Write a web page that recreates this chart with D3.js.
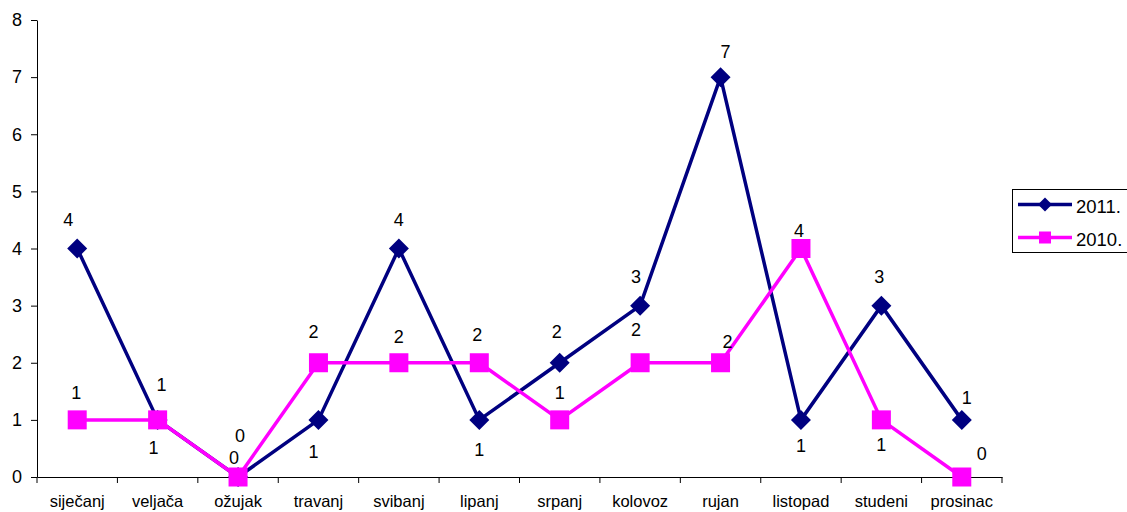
<!DOCTYPE html>
<html>
<head>
<meta charset="utf-8">
<script src="https://cdn.jsdelivr.net/npm/d3@7"></script>
<style>
  html, body { margin: 0; padding: 0; background: #fff; }
  svg { display: block; font-family: "Liberation Sans", Arial, sans-serif; }
</style>
</head>
<body>
<svg id="chart" width="1127" height="512"></svg>
<script>
const months = ["siječanj","veljača","ožujak","travanj","svibanj","lipanj","srpanj","kolovoz","rujan","listopad","studeni","prosinac"];
const values2011 = [4,1,0,1,4,1,2,3,7,1,3,1];
const values2010 = [1,1,0,2,2,2,1,2,2,4,1,0];
const yTickValues = [0,1,2,3,4,5,6,7,8];
const seriesNames = ["2011.","2010."];
// label offsets (dx, dy of text centre from the point)
const labelOffsets2011 = [[-9,-29],[-4,28],[-4,-19],[-5,32],[0,-29],[0,30],[-3,-31],[-4,-29],[5,-25],[0,26],[-2,-29],[5,-22]];
const labelOffsets2010 = [[-1,-27],[4,-35],[2,-41],[-5,-31],[0,-26],[-2,-28],[0,-27],[-4,-33],[7,-21],[-2,-18],[0,25],[20,-23]];

const svg = d3.select("#chart");
svg.append("rect").attr("width",1127).attr("height",512).attr("fill","#fff");

const x = d3.scaleBand().domain(months).range([37,1002]);
const y = d3.scaleLinear().domain([0,8]).range([477,20]);
const cx = m => x(m) + x.bandwidth()/2;

// Y axis
const yAxis = svg.append("g").attr("transform","translate(37,0)")
  .call(d3.axisLeft(y).tickValues(yTickValues).tickSize(6).tickSizeOuter(0).tickPadding(9).tickFormat(d3.format("d")));
yAxis.select(".domain").attr("stroke","#000");
yAxis.selectAll(".tick line").attr("stroke","#000");
yAxis.selectAll(".tick text").attr("font-size",18).attr("fill","#000").attr("font-family","Liberation Sans, Arial, sans-serif");

// X axis
const xAxis = svg.append("g").attr("transform","translate(0,477)")
  .call(d3.axisBottom(x).tickSize(0).tickPadding(18));
xAxis.select(".domain").attr("stroke","#000");
xAxis.selectAll(".tick text").attr("font-size",16.5).attr("fill","#000").attr("font-family","Liberation Sans, Arial, sans-serif");
const boundaries = months.map(m => x(m)).concat([x.range()[1]]);
xAxis.selectAll(".bnd").data(boundaries).enter().append("line")
  .attr("x1",d=>d).attr("x2",d=>d).attr("y1",0).attr("y2",6).attr("stroke","#000");

const line = d3.line().x((d,i)=>cx(months[i])).y(d=>y(d));

const series = [
  {name: seriesNames[0], values: values2011, color: "#000080", marker: "diamond", offs: labelOffsets2011},
  {name: seriesNames[1], values: values2010, color: "#FF00FF", marker: "square", offs: labelOffsets2010}
];

function drawMarker(g, type, color, px, py, size) {
  if (type === "square") {
    g.append("rect").attr("x",px-size/2).attr("y",py-size/2).attr("width",size).attr("height",size).attr("fill",color);
  } else {
    const h = size/2 + 1;
    g.append("path").attr("d",`M${px},${py-h}L${px+h},${py}L${px},${py+h}L${px-h},${py}Z`).attr("fill",color);
  }
}

series.forEach(s => {
  const g = svg.append("g");
  g.append("path").datum(s.values).attr("d",line).attr("fill","none").attr("stroke",s.color).attr("stroke-width",3.5).attr("stroke-linejoin","round");
  s.values.forEach((v,i) => drawMarker(g, s.marker, s.color, cx(months[i]), y(v), s.marker === "square" ? 19 : 18));
});

// data labels
series.forEach(s => {
  svg.append("g").selectAll("text").data(s.values).enter().append("text")
    .attr("x",(d,i)=>cx(months[i]) + s.offs[i][0])
    .attr("y",(d,i)=>y(d) + s.offs[i][1])
    .attr("dy","0.35em")
    .attr("text-anchor","middle")
    .attr("font-size",18).attr("fill","#000")
    .text(d=>d);
});

// legend
const lg = svg.append("g");
lg.append("rect").attr("x",1012.5).attr("y",189.5).attr("width",130).attr("height",63).attr("fill","#fff").attr("stroke","#000");
series.forEach((s,i) => {
  const ly = 204.5 + i*33;
  lg.append("line").attr("x1",1018).attr("x2",1072).attr("y1",ly).attr("y2",ly).attr("stroke",s.color).attr("stroke-width",3.5);
  drawMarker(lg, s.marker, s.color, 1045, ly, s.marker === "square" ? 12 : 12);
  lg.append("text").attr("x",1076).attr("y",ly + 2).attr("dy","0.35em").attr("font-size",18.5).attr("fill","#000").text(s.name);
});
</script>
</body>
</html>
